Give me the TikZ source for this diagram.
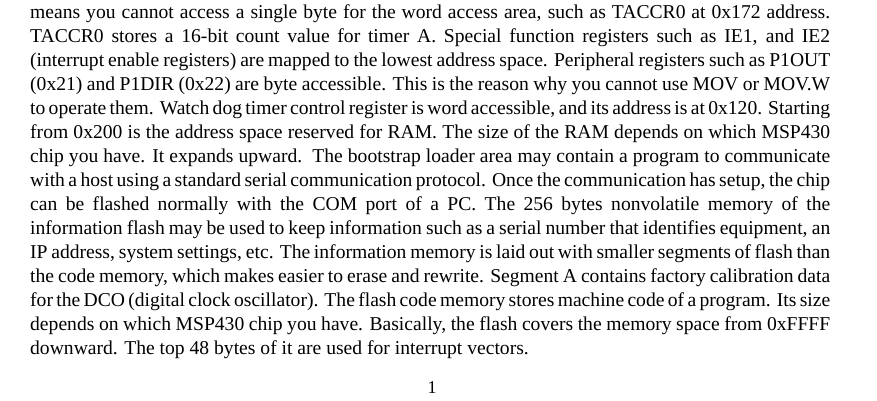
\documentclass[tikz,border=0pt]{standalone}
\usepackage{fontspec}
\setmainfont{Liberation Serif}
\begin{document}
\begin{tikzpicture}[x=1bp,y=-1bp]
\useasboundingbox[fill=white] (0,0) rectangle (877,400);
\tikzset{para/.style={anchor=north west,inner sep=0pt,text width=800bp,align=justify,font=\fontsize{19.6bp}{24bp}\selectfont}}
\node[para] (p) at (30,1.5) {\baselineskip=24bp\lineskiplimit=-20bp\lineskip=0pt
\strut means you cannot access a single byte for the word access area, such as TACCR0 at 0x172 address.\linebreak
TACCR0 stores a 16-bit count value for timer A. Special function registers such as IE1, and IE2\linebreak
(interrupt enable registers) are mapped to the lowest address space. Peripheral registers such as P1OUT\linebreak
(0x21) and P1DIR (0x22) are byte accessible. This is the reason why you cannot use MOV or MOV.W\linebreak
to operate them. Watch dog timer control register is word accessible, and its address is at 0x120. Starting\linebreak
from 0x200 is the address space reserved for RAM. The size of the RAM depends on which MSP430\linebreak
chip you have. It expands upward.\ \ The bootstrap loader area may contain a program to communicate\linebreak
with a host using a standard serial communication protocol. Once the communication has setup, the chip\linebreak
can be flashed normally with the COM port of a PC. The 256 bytes nonvolatile memory of the\linebreak
information flash may be used to keep information such as a serial number that identifies equipment, an\linebreak
IP address, system settings, etc. The information memory is laid out with smaller segments of flash than\linebreak
the code memory, which makes easier to erase and rewrite. Segment A contains factory calibration data\linebreak
for the DCO (digital clock oscillator). The flash code memory stores machine code of a program. Its size\linebreak
depends on which MSP430 chip you have. Basically, the flash covers the memory space from 0xFFFF\linebreak
downward. The top 48 bytes of it are used for interrupt vectors.\par};
\node[anchor=base,inner sep=0pt,font=\fontsize{18bp}{20bp}\selectfont] (n) at (432,393) {1};
\end{tikzpicture}
\end{document}
